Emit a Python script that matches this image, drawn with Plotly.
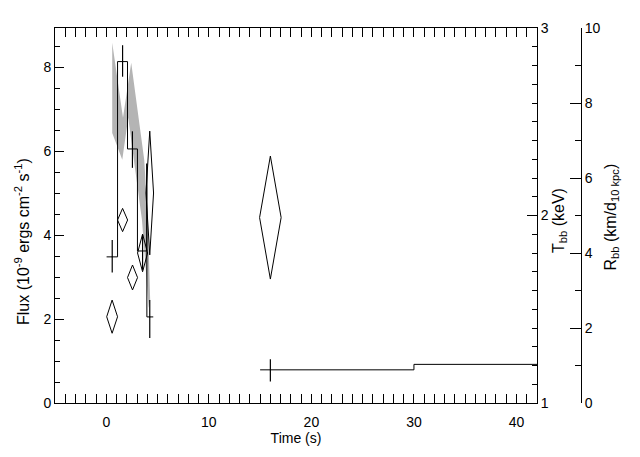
import plotly.graph_objects as go

# ---------------- data ----------------
# Flux histogram (bin edges and values), burst part and tail part
hist1_left = [0.03, 1.10, 2.07, 3.04, 3.95, 3.96]
hist1_right = [1.10, 2.07, 3.04, 3.95, 3.96, 4.58]
hist1_flux = [3.48, 8.13, 6.05, 3.62, 5.70, 2.05]

hist2_left = [15.0, 30.0]
hist2_right = [30.0, 42.0]
hist2_flux = [0.79, 0.92]

# Flux error bars
cross_t = [0.58, 1.59, 2.55, 3.54, 4.24, 16.0]
cross_f = [3.48, 8.13, 6.05, 3.62, 2.05, 0.79]
cross_lo = [3.11, 7.77, 5.60, 3.17, 1.55, 0.51]
cross_hi = [3.88, 8.52, 6.47, 4.00, 2.45, 1.04]

# Grey band (model flux range)
band_up_t = [0.58, 1.63, 2.43, 3.70, 4.06, 4.28, 4.14]
band_up_f = [8.58, 6.79, 8.10, 5.79, 4.36, 2.45, 2.26]
band_lo_t = [3.48, 2.14, 1.56, 0.58]
band_lo_f = [4.36, 6.79, 5.79, 6.43]

# Blackbody temperature (diamonds): centre, half-width, value, lower, upper
kT_t = [0.57, 1.59, 2.56, 3.54, 4.24, 16.0]
kT_dt = [0.53, 0.49, 0.49, 0.49, 0.37, 1.05]
kT_val = [1.46, 1.976, 1.669, 1.80, 2.12, 1.989]
kT_lo = [1.372, 1.914, 1.603, 1.700, 1.79, 1.661]
kT_hi = [1.549, 2.038, 1.736, 1.901, 2.45, 2.317]

# ---------------- build traces ----------------
def steps(lefts, rights, vals):
    xs, ys = [], []
    for l, r, v in zip(lefts, rights, vals):
        xs += [l, r]
        ys += [v, v]
    return xs, ys

fig = go.Figure()

bx = band_up_t + band_lo_t + [band_up_t[0]]
by = band_up_f + band_lo_f + [band_up_f[0]]
fig.add_trace(go.Scatter(x=bx, y=by, mode="lines", fill="toself",
                         fillcolor="#b4b4b4", line=dict(width=0, color="#b4b4b4"),
                         hoverinfo="skip", showlegend=False))

for L, R, F in [(hist1_left, hist1_right, hist1_flux), (hist2_left, hist2_right, hist2_flux)]:
    sx, sy = steps(L, R, F)
    fig.add_trace(go.Scatter(x=sx, y=sy, mode="lines",
                             line=dict(color="black", width=1), showlegend=False))

fig.add_trace(go.Scatter(
    x=cross_t, y=cross_f, mode="markers", marker=dict(size=1, color="black"),
    error_y=dict(type="data", symmetric=False,
                 array=[h - f for h, f in zip(cross_hi, cross_f)],
                 arrayminus=[f - l for l, f in zip(cross_lo, cross_f)],
                 width=0, thickness=1.2, color="black"),
    showlegend=False))

dx, dy = [], []
for t, dt, v, lo, hi in zip(kT_t, kT_dt, kT_val, kT_lo, kT_hi):
    dx += [t - dt, t, t + dt, t, t - dt, None]
    dy += [v, hi, v, lo, v, None]
fig.add_trace(go.Scatter(x=dx, y=dy, mode="lines", yaxis="y2",
                         line=dict(color="black", width=1), showlegend=False))

# invisible trace to make the third axis render
fig.add_trace(go.Scatter(x=[None], y=[None], yaxis="y3", showlegend=False))

# ---------------- layout ----------------
FONT = dict(family="Liberation Sans, Arial, sans-serif", size=14, color="black")
TFONT = dict(family="Liberation Sans, Arial, sans-serif", size=16, color="black")
# page body adds an 8px offset; compensate so the frame lands where the reference has it
OFF = 8
W, H = 640 - OFF, 457 - OFF
ml, mt = 55 - OFF, 28 - OFF
pw, ph = 526, 375
mr = W - ml - pw
mb = H - mt - ph
xdom_right = (537 - 55) / pw

common = dict(showgrid=False, zeroline=False, showline=True, linecolor="black",
              linewidth=1, ticks="inside", tickcolor="black", tickwidth=1,
              tickfont=FONT, automargin=False)

fig.update_layout(
    width=W, height=H,
    margin=dict(l=ml, r=mr, t=mt, b=mb, autoexpand=False),
    paper_bgcolor="white", plot_bgcolor="white",
    font=FONT,
    xaxis=dict(range=[-5, 42], domain=[0, xdom_right], dtick=10, tick0=0,
               ticklen=9, mirror="allticks", ticklabelstandoff=6,
               minor=dict(dtick=1, ticks="inside", ticklen=5, tickcolor="black", showgrid=False),
               title=dict(text="Time (s)", font=FONT, standoff=0), **common),
    yaxis=dict(range=[0, 8.93], dtick=2, tick0=0, ticklen=9,
               minor=dict(dtick=0.5, ticks="inside", ticklen=5, tickcolor="black", showgrid=False),
               **common),
    yaxis2=dict(range=[1, 3], dtick=1, tick0=1, ticklen=10, overlaying="y", side="right",
                anchor="x",
                minor=dict(dtick=0.1, ticks="inside", ticklen=5, tickcolor="black", showgrid=False),
                **common),
    yaxis3=dict(range=[0, 10], dtick=2, tick0=0, ticklen=11, overlaying="y", side="right",
                anchor="free", position=1.0,
                minor=dict(dtick=1, ticks="inside", ticklen=6, tickcolor="black", showgrid=False),
                **common),
    annotations=[
        dict(text="Flux (10<sup>-9</sup> ergs cm<sup>-2</sup> s<sup>-1</sup>)",
             xref="paper", yref="paper", x=(22 - 55) / pw, y=(403 - 242) / ph,
             textangle=-90, showarrow=False, xanchor="center", yanchor="middle", font=TFONT),
        dict(text="T<sub>bb</sub> (keV)",
             xref="paper", yref="paper", x=(560 - 55) / pw, y=(403 - 221) / ph,
             textangle=-90, showarrow=False, xanchor="center", yanchor="middle", font=TFONT),
        dict(text="R<sub>bb</sub> (km/d<sub>10 kpc</sub>)",
             xref="paper", yref="paper", x=(611 - 55) / pw, y=(403 - 217.5) / ph,
             textangle=-90, showarrow=False, xanchor="center", yanchor="middle", font=TFONT),
    ],
)

fig.write_html("out.html")
